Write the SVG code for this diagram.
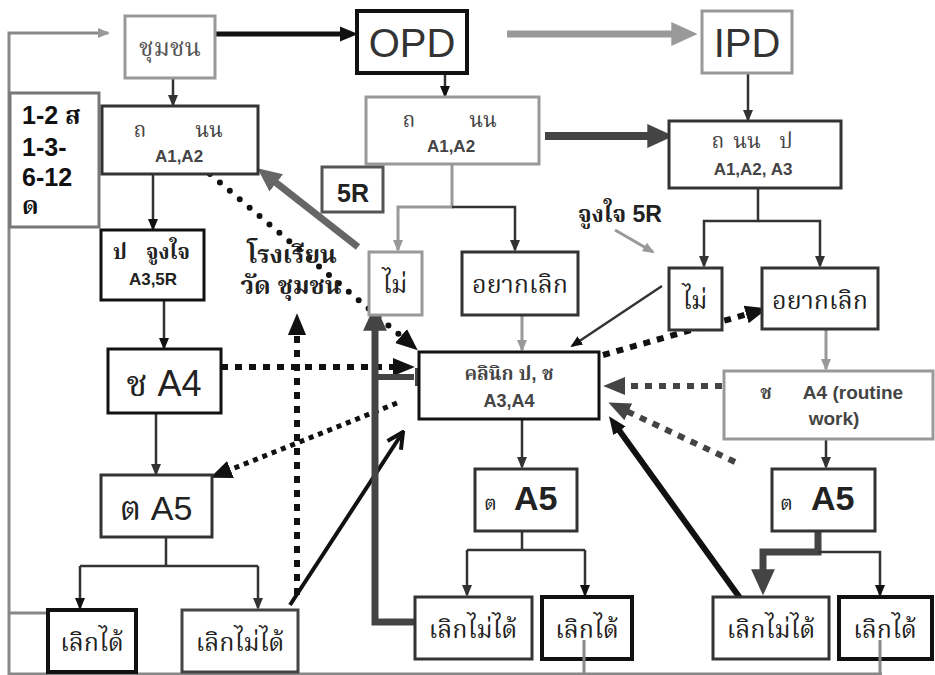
<svg xmlns="http://www.w3.org/2000/svg" width="935" height="675" viewBox="0 0 935 675">
<style>
text{font-family:"Liberation Sans","Noto Serif Thai","Norasi","Noto Sans Thai","Loma","Garuda","DejaVu Sans",sans-serif;fill:#333;text-anchor:middle}
.th{font-size:25px;fill:#222}
.b{font-weight:bold}
.box{fill:#fff}
.k{stroke:#111;stroke-width:4}
.d{stroke:#333;stroke-width:3}
.g{stroke:#999;stroke-width:3}
.ln{fill:none;stroke:#333;stroke-width:2.5}
.lg{fill:none;stroke:#999;stroke-width:3}
.fb{fill:none;stroke:#888;stroke-width:3}
</style>
<defs>
<marker id="ah" markerUnits="userSpaceOnUse" viewBox="0 0 12 12" markerWidth="12" markerHeight="12" refX="10" refY="6" orient="auto"><path d="M0,1 L12,6 L0,11z" fill="#333"/></marker>
<marker id="ahK" markerUnits="userSpaceOnUse" viewBox="0 0 12 12" markerWidth="12" markerHeight="12" refX="10" refY="6" orient="auto"><path d="M0,1 L12,6 L0,11z" fill="#111"/></marker>
<marker id="ahG" markerUnits="userSpaceOnUse" viewBox="0 0 12 12" markerWidth="12" markerHeight="12" refX="10" refY="6" orient="auto"><path d="M0,1 L12,6 L0,11z" fill="#999"/></marker>
<marker id="ahBG" markerUnits="userSpaceOnUse" viewBox="0 0 24 24" markerWidth="26" markerHeight="26" refX="8" refY="12" orient="auto"><path d="M0,1 L24,12 L0,23z" fill="#999"/></marker>
<marker id="ahBD" markerUnits="userSpaceOnUse" viewBox="0 0 24 24" markerWidth="26" markerHeight="26" refX="8" refY="12" orient="auto"><path d="M0,1 L24,12 L0,23z" fill="#444"/></marker>
<marker id="ahBM" markerUnits="userSpaceOnUse" viewBox="0 0 24 24" markerWidth="24" markerHeight="24" refX="8" refY="12" orient="auto"><path d="M0,1 L24,12 L0,23z" fill="#666"/></marker>
<marker id="ahBK" markerUnits="userSpaceOnUse" viewBox="0 0 24 24" markerWidth="18" markerHeight="18" refX="8" refY="12" orient="auto"><path d="M0,2 L24,12 L0,22z" fill="#111"/></marker>
<marker id="ahDot" markerUnits="userSpaceOnUse" viewBox="0 0 24 24" markerWidth="22" markerHeight="22" refX="10" refY="12" orient="auto"><path d="M0,2 L24,12 L0,22z" fill="#111"/></marker>
<marker id="ahDotD" markerUnits="userSpaceOnUse" viewBox="0 0 24 24" markerWidth="22" markerHeight="22" refX="10" refY="12" orient="auto"><path d="M0,2 L24,12 L0,22z" fill="#444"/></marker>
<marker id="ahOpen" markerUnits="userSpaceOnUse" viewBox="0 0 20 20" markerWidth="20" markerHeight="20" refX="18" refY="10" orient="auto"><path d="M2,2 L18,10 L2,18" fill="none" stroke="#111" stroke-width="4"/></marker>
</defs>

<g id="connectors">
  <path class="fb" d="M882,674 H9 V33 H108" marker-end="url(#ahG)"/>
  <path class="fb" d="M9,613 H48"/>
  <path d="M215,34 H346" fill="none" stroke="#111" stroke-width="5" marker-end="url(#ahBK)"/>
  <path d="M507,34 H680" fill="none" stroke="#999" stroke-width="7" marker-end="url(#ahBG)"/>
  <path d="M545,136 H656" fill="none" stroke="#444" stroke-width="8" marker-end="url(#ahBD)"/>
  <path class="ln" d="M173,78 V105" marker-end="url(#ah)"/>
  <path class="ln" d="M445,73 V96" marker-end="url(#ahK)"/>
  <path class="ln" d="M748,73 V120" marker-end="url(#ah)"/>
  <path class="ln" d="M153,174 V229" marker-end="url(#ahK)"/>
  <path class="ln" d="M164,300 V348" marker-end="url(#ahK)"/>
  <path class="ln" d="M156,413 V474" marker-end="url(#ah)"/>
  <path class="ln" d="M166,537 V566 M80,566 H258"/>
  <path class="ln" d="M80,566 V608" marker-end="url(#ahK)"/>
  <path class="ln" d="M258,566 V608" marker-end="url(#ah)"/>
  <path class="lg" d="M452,164 V207 H398 V250" marker-end="url(#ahG)"/>
  <path class="ln" d="M452,207 H515 V250" marker-end="url(#ah)"/>
  <path class="lg" d="M522,315 V350" marker-end="url(#ahG)"/>
  <path class="ln" d="M522,419 V467" marker-end="url(#ah)"/>
  <path class="ln" d="M522,531 V550 M467,550 H585"/>
  <path class="ln" d="M467,550 V595" marker-end="url(#ah)"/>
  <path class="ln" d="M585,550 V595" marker-end="url(#ahK)"/>
  <path class="ln" d="M758,188 V221 H704 V266" marker-end="url(#ah)"/>
  <path class="ln" d="M758,221 H820 V266" marker-end="url(#ah)"/>
  <path class="lg" d="M826,329 V369" marker-end="url(#ahG)"/>
  <path class="ln" d="M826,439 V467" marker-end="url(#ah)"/>
  <path d="M818,531 V552 H763 V578" fill="none" stroke="#444" stroke-width="7" marker-end="url(#ahBD)"/>
  <path class="ln" d="M818,552 H880 V595" marker-end="url(#ahK)"/>
  <path d="M358,247 L270,178" fill="none" stroke="#666" stroke-width="7" marker-end="url(#ahBM)"/>
  <path d="M210,174 L408,342" fill="none" stroke="#111" stroke-width="6" stroke-linecap="round" stroke-dasharray="0 13" marker-end="url(#ahDot)"/>
  <path d="M221,367 H402" fill="none" stroke="#111" stroke-width="6" stroke-dasharray="7 7" marker-end="url(#ahDot)"/>
  <path d="M297,595 V326" fill="none" stroke="#111" stroke-width="6" stroke-dasharray="7 7" marker-end="url(#ahDot)"/>
  <path d="M397,403 L222,473" fill="none" stroke="#111" stroke-width="5" stroke-dasharray="5 5" marker-end="url(#ahDot)"/>
  <path d="M290,605 L403,432" fill="none" stroke="#111" stroke-width="4" marker-end="url(#ahOpen)"/>
  <path d="M415,622 H375 V322" fill="none" stroke="#444" stroke-width="7" marker-end="url(#ahBD)"/>
  <path d="M375,377 H414" fill="none" stroke="#444" stroke-width="6"/>
  <path d="M417,368 V386" fill="none" stroke="#444" stroke-width="4"/>
  <path d="M662,286 L572,346" fill="none" stroke="#333" stroke-width="2.5" marker-end="url(#ahK)"/>
  <path d="M615,230 L653,252" fill="none" stroke="#999" stroke-width="3" marker-end="url(#ahG)"/>
  <path d="M603,355 L755,312" fill="none" stroke="#111" stroke-width="6" stroke-dasharray="7 7" marker-end="url(#ahDot)"/>
  <path d="M722,386 H616" fill="none" stroke="#444" stroke-width="6" stroke-dasharray="7 7" marker-end="url(#ahDotD)"/>
  <path d="M735,462 L620,408" fill="none" stroke="#444" stroke-width="6" stroke-dasharray="7 7" marker-end="url(#ahDotD)"/>
  <path d="M740,598 L616,426" fill="none" stroke="#111" stroke-width="6" marker-end="url(#ahBK)"/>
</g>

<g id="n-chumchon"><rect class="box g" x="125" y="16" width="90" height="62"/><text class="th" x="170" y="56" font-size="27" style="fill:#555">ชุมชน</text></g>
<g id="n-opd"><rect class="box k" x="357" y="11" width="110" height="62"/><text x="412" y="57" font-size="40">OPD</text></g>
<g id="n-ipd"><rect class="box g" x="702" y="11" width="90" height="62"/><text x="747" y="57" font-size="40">IPD</text></g>
<g id="n-period"><rect class="box" x="10" y="93" width="89" height="134" stroke="#777" stroke-width="3"/>
  <text class="b" font-size="25" style="text-anchor:start;fill:#111"><tspan x="22" y="124">1-2 ส</tspan><tspan x="22" y="156">1-3-</tspan><tspan x="22" y="186">6-12</tspan><tspan x="22" y="214">ด</tspan></text></g>
<g id="n-screen-left"><rect class="box d" x="102" y="106" width="156" height="68"/>
  <text font-size="21" style="fill:#444"><tspan x="140" y="137">ถ</tspan><tspan x="209" y="137">นน</tspan></text>
  <text class="b" x="179" y="162" font-size="17" style="fill:#444">A1,A2</text></g>
<g id="n-screen-opd"><rect class="box g" x="366" y="97" width="173" height="67"/>
  <text font-size="21" style="fill:#444"><tspan x="409" y="127">ถ</tspan><tspan x="483" y="127">นน</tspan></text>
  <text class="b" x="451" y="152" font-size="17" style="fill:#444">A1,A2</text></g>
<g id="n-screen-ipd"><rect class="box d" x="669" y="121" width="172" height="67"/>
  <text font-size="21" style="fill:#444"><tspan x="718" y="148">ถ</tspan><tspan x="747" y="148">นน</tspan><tspan x="786" y="148">ป</tspan></text>
  <text class="b" x="753" y="175" font-size="17" style="fill:#444">A1,A2, A3</text></g>
<g id="n-5r"><rect class="box" x="322" y="167" width="61" height="45" stroke="#555" stroke-width="3"/><text class="b" x="353" y="202" font-size="25" style="fill:#222">5R</text></g>
<g id="n-motivate"><rect class="box k" x="101" y="230" width="103" height="70" style="stroke-width:3"/>
  <text class="b" font-size="21" style="fill:#222"><tspan x="120" y="259">ป</tspan><tspan x="168" y="259">จูงใจ</tspan></text>
  <text class="b" x="153" y="285" font-size="17" style="fill:#222">A3,5R</text></g>
<g id="n-a4-left"><rect class="box k" x="108" y="349" width="113" height="64" style="stroke-width:3"/><text x="164" y="396" font-size="36" style="fill:#222">ช A4</text></g>
<g id="n-a5-left"><rect class="box d" x="101" y="475" width="111" height="62"/><text x="156" y="520" font-size="34" style="fill:#222">ต A5</text></g>
<g id="n-quit-left"><rect class="box k" x="48" y="610" width="88" height="62"/><text class="th" x="92" y="651">เลิกได้</text></g>
<g id="n-noquit-left"><rect class="box" x="182" y="610" width="116" height="62" stroke="#444" stroke-width="3"/><text class="th" x="240" y="651">เลิกไม่ได้</text></g>
<g id="n-no-opd"><rect class="box g" x="369" y="252" width="53" height="63"/><text class="th" x="395" y="293" font-size="28">ไม่</text></g>
<g id="n-want-opd"><rect class="box d" x="462" y="252" width="116" height="63"/><text class="th" x="520" y="293">อยากเลิก</text></g>
<g id="n-clinic"><rect class="box" x="419" y="352" width="180" height="67" stroke="#111" stroke-width="3"/>
  <text class="b" x="509" y="380" font-size="19" style="fill:#444">คลินิก ป, ช</text>
  <text class="b" x="509" y="407" font-size="18" style="fill:#444">A3,A4</text></g>
<g id="n-a5-opd"><rect class="box d" x="475" y="469" width="102" height="62"/>
  <text style="text-anchor:start;fill:#222"><tspan x="484" y="510" font-size="20">ต</tspan><tspan x="514" y="510" font-size="34" font-weight="bold">A5</tspan></text></g>
<g id="n-noquit-opd"><rect class="box d" x="415" y="597" width="117" height="62"/><text class="th" x="473" y="638">เลิกไม่ได้</text></g>
<g id="n-quit-opd"><rect class="box k" x="542" y="597" width="90" height="62"/><text class="th" x="587" y="638">เลิกได้</text></g>
<g id="n-no-ipd"><rect class="box d" x="669" y="268" width="53" height="62"/><text class="th" x="695" y="309" font-size="28">ไม่</text></g>
<g id="n-want-ipd"><rect class="box d" x="762" y="268" width="116" height="61"/><text class="th" x="820" y="309">อยากเลิก</text></g>
<g id="n-a4-routine"><rect class="box g" x="724" y="371" width="209" height="68"/>
  <text class="b" font-size="19" style="fill:#444"><tspan x="766" y="399">ช</tspan><tspan x="853" y="399">A4 (routine</tspan><tspan x="834" y="425">work)</tspan></text></g>
<g id="n-a5-ipd"><rect class="box d" x="772" y="469" width="103" height="62"/>
  <text style="text-anchor:start;fill:#222"><tspan x="780" y="510" font-size="20">ต</tspan><tspan x="811" y="510" font-size="34" font-weight="bold">A5</tspan></text></g>
<g id="n-noquit-ipd"><rect class="box d" x="713" y="597" width="116" height="62"/><text class="th" x="771" y="638">เลิกไม่ได้</text></g>
<g id="n-quit-ipd"><rect class="box k" x="839" y="597" width="93" height="62"/><text class="th" x="885" y="638">เลิกได้</text></g>

<g id="labels">
  <text class="b" x="292" y="263" font-size="25" style="fill:#222">โรงเรียน</text>
  <text class="b" x="291" y="294" font-size="25" style="fill:#222">วัด ชุมชน</text>
  <text class="b" x="620" y="222" font-size="23" style="fill:#222">จูงใจ 5R</text>
</g>
<path d="M584,640 V674 M880,640 V674" fill="none" stroke="#888" stroke-width="3"/>
</svg>
